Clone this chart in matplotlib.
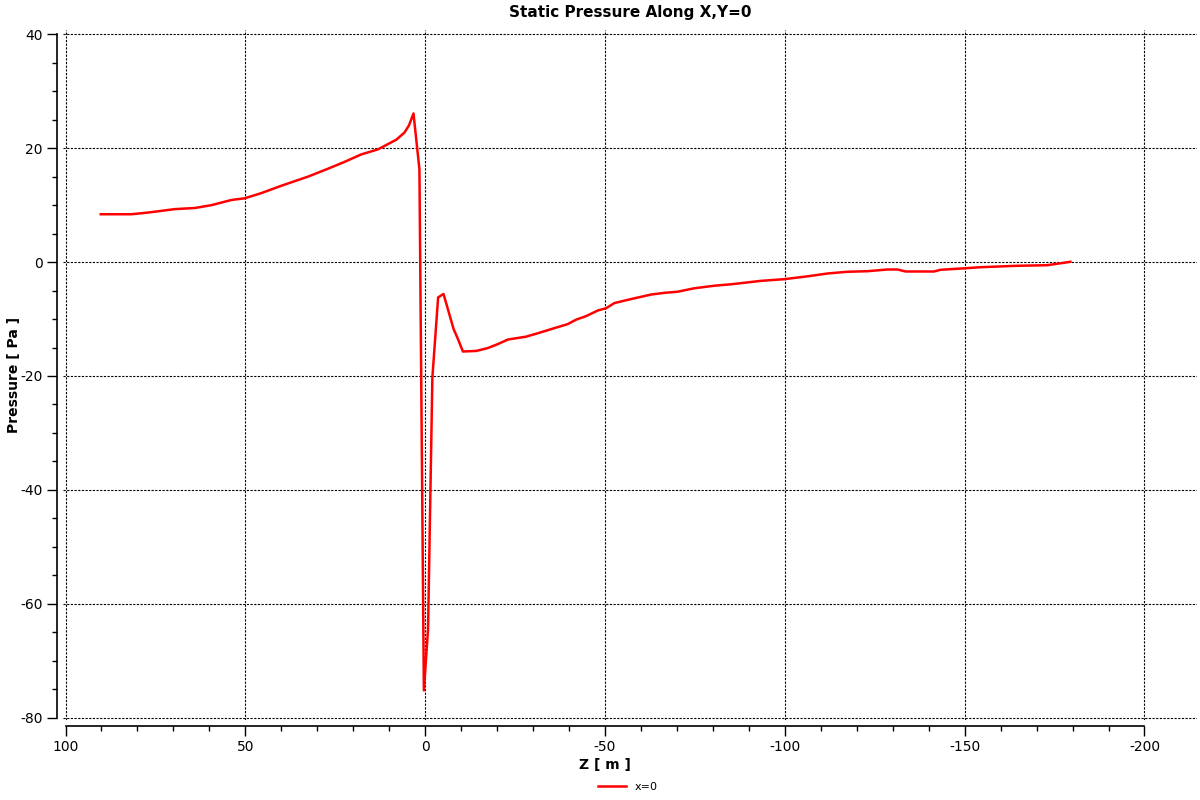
import matplotlib
matplotlib.use("Agg")
import matplotlib.pyplot as plt
import numpy as np
from matplotlib.ticker import FixedLocator, MultipleLocator

# Z position [m] and static pressure [Pa] along X,Y=0
z_m = [90.2, 81.7, 77.0, 69.6, 64.0, 59.4, 53.9, 50.2, 45.6, 40.0, 32.6, 27.0,
       22.4, 17.8, 13.1, 8.0, 5.75, 4.5, 3.25, 1.6, 0.36, -0.8, -2.0, -3.6,
       -5.1, -7.9, -9.1, -10.5, -14.2, -17.4, -20.2, -23.0, -28.0, -31.3,
       -35.9, -39.6, -42.0, -44.7, -48.0, -50.3, -52.6, -57.2, -62.8, -66.5,
       -70.2, -74.8, -80.4, -85.0, -87.8, -93.3, -99.8, -106.3, -111.9,
       -117.4, -123.0, -128.5, -131.3, -133.6, -141.5, -143.3, -149.8,
       -154.4, -164.6, -172.9, -179.4]
pressure_pa = [8.4, 8.4, 8.7, 9.3, 9.5, 10.0, 10.9, 11.2, 12.1, 13.4, 15.0, 16.4,
               17.6, 18.9, 19.8, 21.5, 22.75, 24.0, 26.1, 16.3, -75.2, -64.4,
               -20.3, -6.2, -5.6, -11.75, -13.5, -15.7, -15.6, -15.1, -14.4,
               -13.6, -13.1, -12.5, -11.6, -10.9, -10.1, -9.5, -8.5, -8.1, -7.2,
               -6.5, -5.7, -5.4, -5.2, -4.6, -4.15, -3.9, -3.7, -3.3, -3.0, -2.5,
               -2.0, -1.7, -1.6, -1.3, -1.3, -1.65, -1.65, -1.35, -1.1, -0.9,
               -0.65, -0.55, 0.05]
series_label = "x=0"

plt.rcParams["font.family"] = ["DejaVu Sans"]
plt.rcParams["axes.unicode_minus"] = False

fig = plt.figure(figsize=(12, 8), dpi=100)
ax = fig.add_axes([0.0525, 0.10, 0.945, 0.8625])

ax.plot(z_m, pressure_pa, color="#ff0000", lw=1.8, label=series_label)

ax.set_xlim(100.7, -214.6)
ax.set_ylim(-80.4, 40.75)

# ticks only over the span of the drawn axis lines
ax.xaxis.set_major_locator(MultipleLocator(50))
ax.xaxis.set_minor_locator(FixedLocator(np.arange(-200, 101, 10)))
ax.yaxis.set_major_locator(MultipleLocator(20))
ax.yaxis.set_minor_locator(FixedLocator(np.arange(-80, 41, 5)))

ax.grid(which="major", color="black", lw=0.8, linestyle=(0, (2, 1.3)))

for side in ("top", "right"):
    ax.spines[side].set_visible(False)
ax.spines["left"].set_position(("outward", 4.5))
ax.spines["bottom"].set_position(("outward", 4.5))
ax.spines["left"].set_bounds(-80, 40)
ax.spines["bottom"].set_bounds(100, -200)
ax.spines["left"].set_linewidth(1.2)
ax.spines["bottom"].set_linewidth(1.2)

ax.tick_params(which="major", direction="out", length=7, width=1, labelsize=10, pad=3)
ax.tick_params(which="minor", direction="out", length=3.5, width=1)

ax.set_title("Static Pressure Along X,Y=0", fontsize=11, fontweight="bold", pad=9)
ax.set_xlabel("Z [ m ]", fontsize=10, fontweight="bold")
ax.set_ylabel("Pressure [ Pa ]", fontsize=10, fontweight="bold")
ax.xaxis.set_label_coords(0.478, -0.055)
ax.yaxis.set_label_coords(-0.037, 0.5)

fig.legend(loc="center", bbox_to_anchor=(0.523, 0.016), frameon=False,
           fontsize=8, handlelength=2.5)

fig.savefig("out.png", dpi=100)
plt.close(fig)
